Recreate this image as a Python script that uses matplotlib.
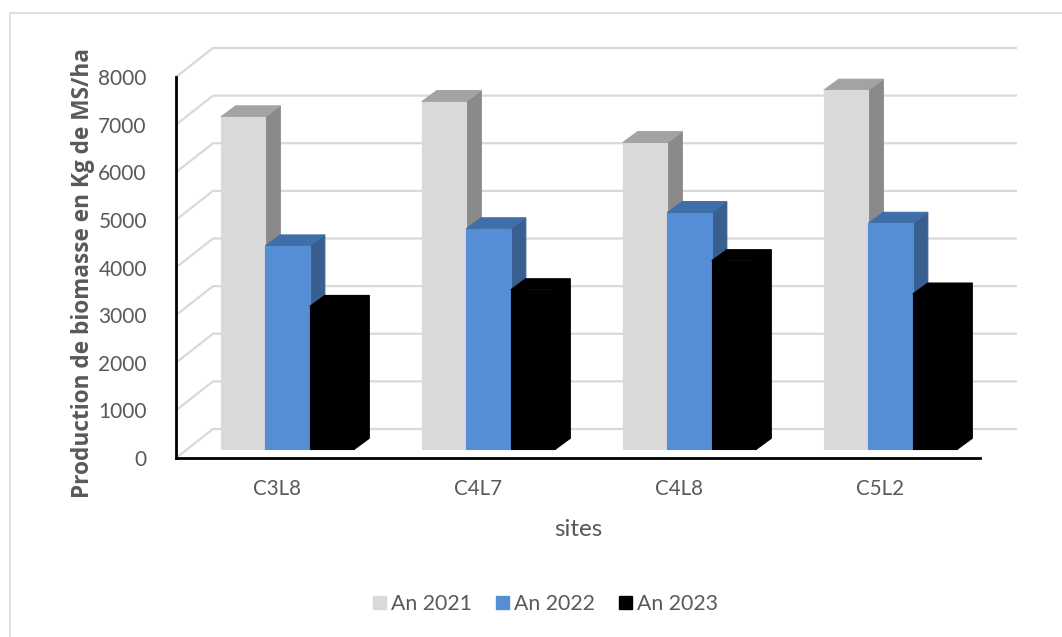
"""
plot.py
Bar chart of biomass production per site, drawn with a 3D box look.
"""
import matplotlib
matplotlib.use("Agg")
import matplotlib.pyplot as plt
from matplotlib.lines import Line2D
from matplotlib.patches import Patch, Polygon

sites = ["C3L8", "C4L7", "C4L8", "C5L2"]
years = ["An 2021", "An 2022", "An 2023"]
an_2021 = [6980, 7300, 6440, 7540]
an_2022 = [4270, 4630, 4970, 4745]
an_2023 = [3000, 3350, 3960, 3260]
y_ticks = [0, 1000, 2000, 3000, 4000, 5000, 6000, 7000, 8000]

# (front, top, side) shades for each series
shades = [
    ("#D9D9D9", "#A3A3A3", "#8A8A8A"),
    ("#558ED5", "#3F6FA8", "#385F90"),
    ("#000000", "#000000", "#000000"),
]

WIDTH, HEIGHT = 1062, 637
LEFT, RIGHT, FLOOR, TOP = 176, 980, 458, 77
TEXT = "#595959"

plt.rcParams["font.family"] = ["Lato", "DejaVu Sans"]

fig = plt.figure(figsize=(WIDTH / 100, HEIGHT / 100), dpi=100)

# chart frame: only the top and left edges are visible
frame_x = 9.5 / WIDTH
frame_y = 1 - 12.5 / HEIGHT
fig.add_artist(Line2D([frame_x, frame_x, 1], [0, frame_y, frame_y],
                      transform=fig.transFigure, color="#D9D9D9", linewidth=1.2))

ax = fig.add_axes([LEFT / WIDTH, 1 - FLOOR / HEIGHT,
                   (RIGHT - LEFT) / WIDTH, (FLOOR - TOP) / HEIGHT])
ax.set_xlim(0, len(sites))
ax.set_ylim(0, 8000)
ax.patch.set_visible(False)

# size of one pixel in data units, used for the depth offsets
px_x = len(sites) / (RIGHT - LEFT)
px_y = 8000 / (FLOOR - TOP)

# wall gridlines: a slanted part on the side wall, then straight along the back
wall_dx, wall_dy = 37 * px_x, 29 * px_y
for v in y_ticks:
    ax.plot([0, wall_dx, len(sites) + wall_dx], [v, v + wall_dy, v + wall_dy],
            color="#D9D9D9", linewidth=1.6, clip_on=False, zorder=1,
            solid_joinstyle="miter", solid_capstyle="butt")

bar_w = 44.5 * px_x
inset_x = 44.8 * px_x
inset_y = 8.7 * px_y
side_dx, side_dy = 15 * px_x, 11 * px_y


def draw_box(x0, value, colors, zorder):
    """Draw one bar as front, top and side faces."""
    front, top, side = colors
    x1 = x0 + bar_w
    y0 = inset_y
    y1 = inset_y + value
    faces = [
        ([(x1, y0), (x1 + side_dx, y0 + side_dy), (x1 + side_dx, y1 + side_dy), (x1, y1)], side),
        ([(x0, y1), (x0 + side_dx, y1 + side_dy), (x1 + side_dx, y1 + side_dy), (x1, y1)], top),
        ([(x0, y0), (x1, y0), (x1, y1), (x0, y1)], front),
    ]
    for pts, color in faces:
        ax.add_patch(Polygon(pts, closed=True, facecolor=color, edgecolor=color,
                             linewidth=0.8, clip_on=False, zorder=zorder))


for i in range(len(sites)):
    for j, series in enumerate([an_2021, an_2022, an_2023]):
        draw_box(i + inset_x + j * bar_w, series[i], shades[j], 2 + j)

for name in ["top", "right"]:
    ax.spines[name].set_visible(False)
for name in ["left", "bottom"]:
    ax.spines[name].set_color("black")
    ax.spines[name].set_linewidth(2)
    ax.spines[name].set_zorder(6)

ax.set_yticks(y_ticks)
ax.set_xticks([i + 0.5 for i in range(len(sites))])
ax.set_xticklabels(sites)
ax.tick_params(axis="y", length=0, pad=21, labelsize=15, labelcolor=TEXT)
ax.tick_params(axis="x", length=0, pad=15, labelsize=14.8, labelcolor=TEXT)

fig.text(83 / WIDTH, 1 - 273.5 / HEIGHT, "Production de biomasse en Kg de MS/ha",
         rotation=90, ha="center", va="center", fontsize=16.3, fontfamily="Open Sans",
         fontweight="bold", color=TEXT)
fig.text(578 / WIDTH, 1 - 529 / HEIGHT, "sites", ha="center", va="center",
         fontsize=17.5, color=TEXT)

handles = [Patch(facecolor=s[0], edgecolor=s[0]) for s in shades]
fig.legend(handles, years, loc="center", bbox_to_anchor=(545.5 / WIDTH, 1 - 604 / HEIGHT),
           ncol=3, frameon=False, fontsize=15.3, labelcolor=TEXT, handlelength=0.62,
           handleheight=0.62, handletextpad=0.25, columnspacing=1.12)

fig.savefig("out.png", dpi=100)
